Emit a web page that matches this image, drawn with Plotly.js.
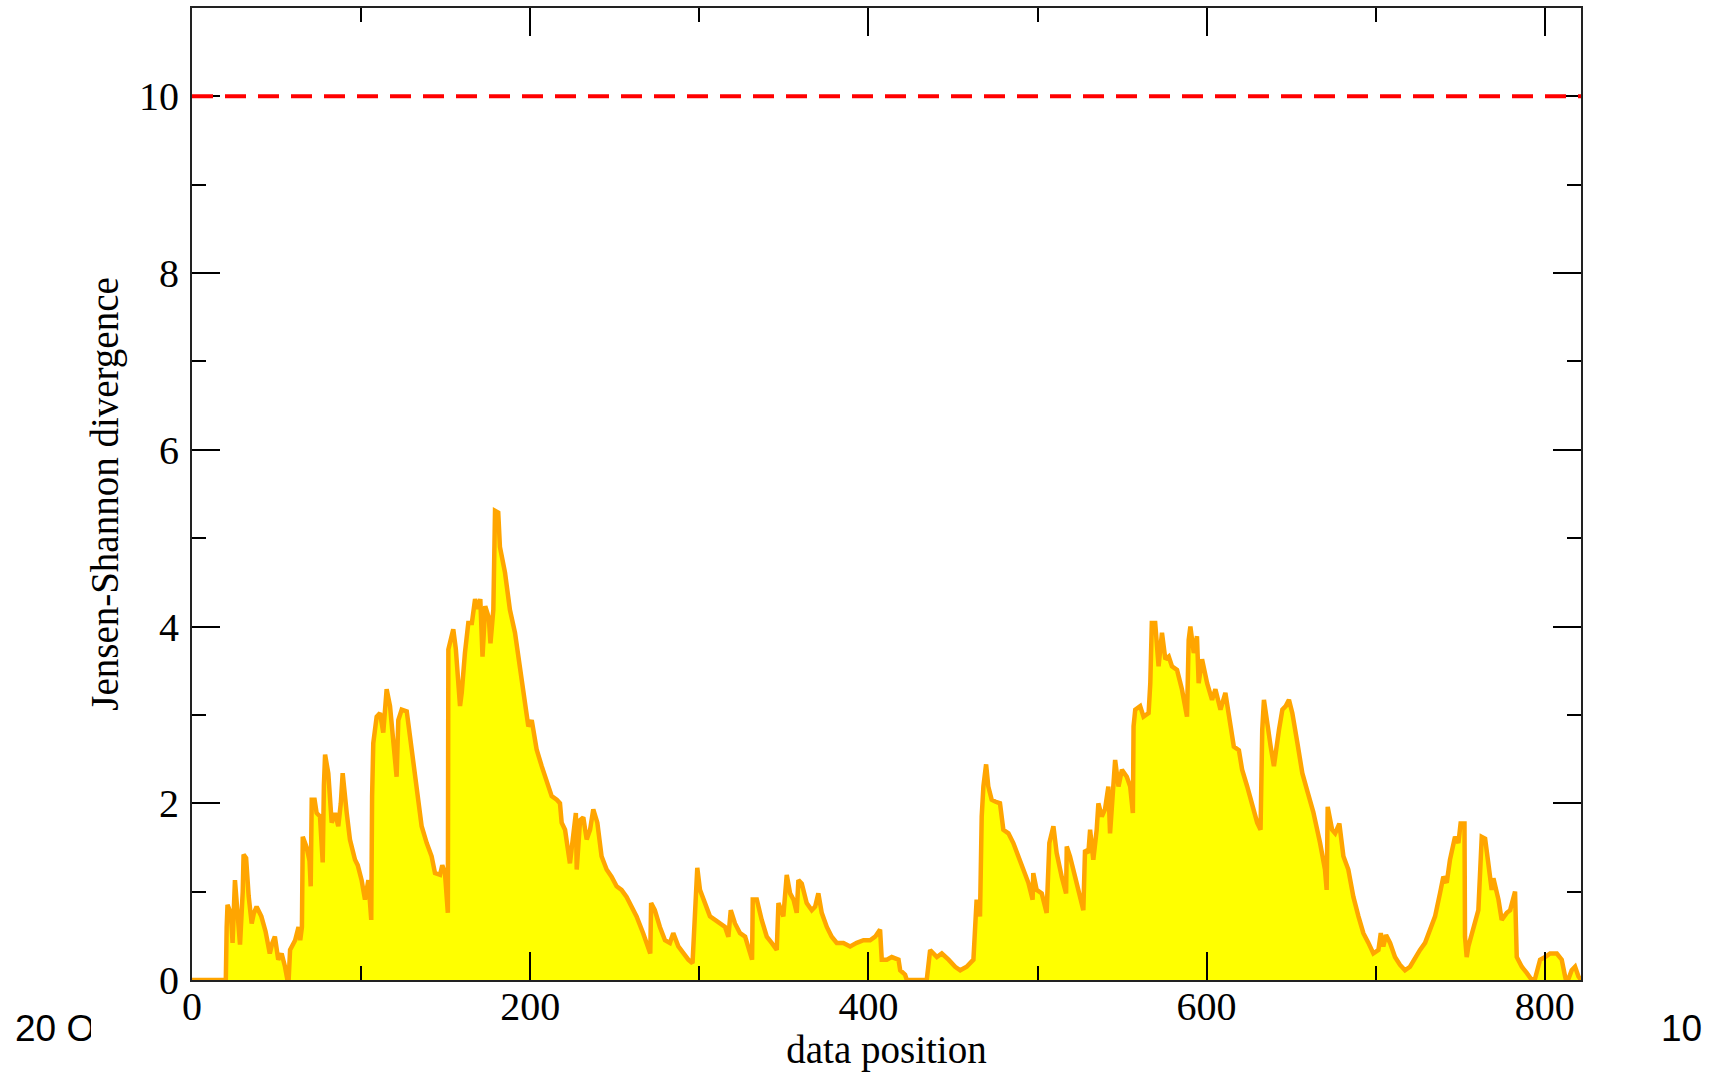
<!DOCTYPE html>
<html>
<head>
<meta charset="utf-8">
<script src="https://cdn.plot.ly/plotly-3.0.1.min.js"></script>
<style>html,body{margin:0;padding:0;background:#fff;}#chart{width:1714px;height:1072px;}</style>
</head>
<body>
<div id="chart"></div>
<script>
// data position (x) and Jensen-Shannon divergence (y)
const positions = [0,20,20.5,21,23,24,25.4,27,28.4,30,30.5,32,33.5,35.3,36.5,38.2,41,43.5,46,47.5,49,51,53,55,57,58,60,61,63,64,65,65.5,67.8,69.5,70.2,70.8,72.5,73.7,75.7,77.3,78,78.7,80.6,82.6,84.6,86.5,88,89.1,91.5,93.4,96.4,98,100.3,102.3,104.3,106,106.5,107.2,109.2,111.2,113.1,115.1,117.1,119,121,122,124,127,129.9,132.9,135.8,138.8,141.7,143.7,146.7,148,149.6,151.3,151.6,154.5,156,158.5,159.5,161.4,163.4,165.5,167.4,169,170.5,171.8,173.4,175.5,176.5,178.2,179.2,181.1,182.1,185.1,188,191,194,196.9,198.9,200.9,203.8,206.8,209.7,212.7,215.7,217.6,218.6,220.6,223.5,225.5,227,227.5,229.5,231.4,233.4,235.4,237.3,239.7,242.2,245.2,248.1,251.1,254,257,260,262.9,266.8,269.8,271,271.5,273.7,276.7,279.7,282.6,284.6,287.6,290.5,293.5,296,297.4,298.8,300.4,303.4,306.3,309.3,312.2,315.2,317.2,318.6,321.1,324.1,327.1,330,331.2,331.6,334,336.9,339.9,342.8,345.8,346.8,349.7,351.7,353.7,355.7,357.6,358.6,360.6,363.5,366.5,368.5,370.4,372.4,375.4,378.3,381.3,385.2,389.2,393.1,397.1,401,404,406.9,407.9,410.9,413.8,417.8,418.8,421.7,422.7,434.5,436.5,440.5,443.4,447.4,451.3,454.3,458.1,462.1,463,464,466,467,468,469.6,470.9,472.9,474.9,477.8,479.8,482.8,485.7,488.7,491.6,494.6,497.1,497.5,499.5,502.5,505.4,507,509.4,511.3,514.3,516.9,517.3,519.2,522.2,525.2,527.1,528.1,530.1,531.1,533,535,536,538,539.9,541.9,542.9,545.9,547.9,549.9,552.8,554.8,556.4,556.8,557.8,560.7,562.7,565.7,566.7,567.6,569.6,571.6,573.6,575.6,577.6,579.5,582.5,585.4,588.4,589.4,590.4,592.4,594.3,595.3,597.3,600.3,603.2,605.2,608.2,611.1,613.1,616.1,619.1,621,624,627,629.9,631.9,632.9,633.9,635.9,637.9,639.8,641.4,642.8,644.8,646.8,648.7,650.7,653.7,656.6,659.4,663.1,667.1,670,671,671.6,674.2,676,678.5,680.9,683.8,686.8,689.8,692.7,695.7,698.6,701.6,703,704.5,706.1,708.5,711.4,714.4,717.3,720.3,723.3,726.2,729.2,732.1,735.1,738,740,742,743.9,746.9,748.9,750.2,752.5,752.8,753.8,754.8,757.8,760.7,762.7,764.7,766.6,768.6,769.6,772.6,774.5,777.5,779.5,782.4,783.4,786.4,789.3,792.3,794.3,796.2,797.2,800.2,803.1,807.1,810,812,813,815.9,817.9,819.9,821.4];
const divergence = [0,0,0.6,0.85,0.75,0.42,1.13,0.7,0.4,1.0,1.42,1.38,0.95,0.64,0.75,0.83,0.72,0.55,0.3,0.42,0.49,0.23,0.3,0.15,-0.06,0.34,0.4,0.45,0.6,0.45,0.6,1.62,1.5,1.35,1.06,2.04,2.04,1.89,1.85,1.33,2.2,2.55,2.34,1.78,1.89,1.74,2.0,2.34,1.89,1.59,1.36,1.3,1.13,0.91,1.13,0.68,2.08,2.68,2.98,3.02,2.8,3.29,3.1,2.72,2.3,2.94,3.06,3.04,2.64,2.19,1.74,1.55,1.4,1.21,1.19,1.3,1.21,0.76,3.74,3.97,3.75,3.1,3.25,3.7,4.04,4.04,4.31,4.2,4.31,3.66,4.23,4.1,3.81,4.19,5.31,5.29,4.9,4.61,4.19,3.93,3.55,3.1,2.87,2.94,2.61,2.42,2.27,2.08,2.04,2.0,1.78,1.7,1.32,1.7,1.89,1.25,1.81,1.84,1.59,1.7,1.93,1.78,1.4,1.25,1.17,1.06,1.02,0.94,0.83,0.72,0.53,0.38,0.3,0.87,0.79,0.6,0.45,0.42,0.53,0.38,0.3,0.23,0.19,0.64,1.27,1.02,0.87,0.72,0.68,0.64,0.6,0.49,0.79,0.64,0.53,0.49,0.3,0.23,0.91,0.91,0.68,0.49,0.42,0.34,0.87,0.72,1.19,0.98,0.91,0.76,1.13,1.09,0.87,0.79,0.83,0.98,0.76,0.6,0.49,0.42,0.42,0.38,0.42,0.45,0.45,0.49,0.57,0.23,0.23,0.26,0.23,0.11,0.06,0,0,0.34,0.26,0.3,0.23,0.15,0.11,0.15,0.23,0.49,0.91,0.72,1.85,2.19,2.44,2.19,2.04,2.02,2.0,1.7,1.66,1.55,1.4,1.25,1.1,0.91,1.21,1.02,0.98,0.76,1.55,1.74,1.44,1.17,0.98,1.51,1.4,1.17,0.91,0.79,1.47,1.44,1.7,1.36,1.7,2.0,1.85,1.93,2.19,1.66,2.49,2.19,2.38,2.3,2.19,1.89,2.87,3.06,3.1,2.98,3.02,3.36,4.04,4.04,3.55,3.93,3.63,3.66,3.55,3.51,3.29,2.98,3.85,4.0,3.7,3.89,3.36,3.63,3.36,3.17,3.29,3.06,3.25,2.98,2.64,2.6,2.38,2.19,2.0,1.78,1.7,2.83,3.17,2.87,2.64,2.42,2.68,2.83,3.06,3.1,3.17,3.02,2.68,2.34,2.15,1.9,1.55,1.25,1.02,1.96,1.7,1.66,1.77,1.4,1.25,0.94,0.72,0.53,0.42,0.3,0.34,0.53,0.38,0.51,0.42,0.26,0.17,0.11,0.15,0.26,0.34,0.42,0.57,0.72,0.98,1.17,1.1,1.36,1.62,1.55,1.77,1.77,0.49,0.26,0.38,0.57,0.79,1.62,1.6,1.32,1.02,1.15,0.91,0.68,0.76,0.79,1.0,0.26,0.15,0.08,0,0.02,0.19,0.23,0.26,0.3,0.3,0.23,0.04,-0.04,0.11,0.15,0.04,0];
const threshold = 10;
const xRange = [0, 821.4];
const yRange = [0, 11];
const xTitle = 'data position';
const yTitle = 'Jensen-Shannon divergence';
const cornerLeftText = '20 O';
const cornerRightText = '10';

const serif = 'Liberation Serif, Times New Roman, serif';
const sans = 'Liberation Sans, Arial, sans-serif';

const trace = {
  type: 'scatter', mode: 'lines',
  x: positions, y: divergence,
  fill: 'tozeroy', fillcolor: '#ffff00',
  line: {color: '#ffa500', width: 4.5},
  hoverinfo: 'skip', showlegend: false
};

const axisCommon = {
  ticks: 'inside', ticklen: 28, tickwidth: 2, tickcolor: '#000',
  showline: true, linecolor: '#222', linewidth: 2, mirror: 'allticks',
  showgrid: false, zeroline: false,
  tickfont: {family: serif, size: 40, color: '#000'}
};

const layout = {
  width: 1714, height: 1072,
  margin: {l: 192, r: 133, t: 8, b: 92},
  paper_bgcolor: '#fff', plot_bgcolor: '#fff',
  showlegend: false,
  xaxis: Object.assign({}, axisCommon, {
    range: xRange, tick0: 0, dtick: 200, ticklabelstandoff: -10,
    minor: {dtick: 100, ticks: 'inside', ticklen: 14, tickwidth: 2, tickcolor: '#000', showgrid: false},
    title: {text: xTitle, font: {family: serif, size: 39, color: '#000'}, standoff: 11}
  }),
  yaxis: Object.assign({}, axisCommon, {
    range: yRange, tick0: 0, dtick: 2, ticklabelstandoff: 3,
    minor: {dtick: 1, ticks: 'inside', ticklen: 14, tickwidth: 2, tickcolor: '#000', showgrid: false},
    title: {text: yTitle, font: {family: serif, size: 39, color: '#000'}, standoff: 8}
  }),
  shapes: [{
    type: 'line', xref: 'paper', x0: 0, x1: 1, yref: 'y', y0: threshold, y1: threshold,
    line: {color: '#ff0000', width: 4, dash: '21px,12px'}
  }],
  annotations: [
    {text: cornerLeftText, xref: 'paper', yref: 'paper', x: -0.1289, y: -0.05, xanchor: 'left', yanchor: 'middle',
     showarrow: false, width: 76, align: 'left', font: {family: sans, size: 37, color: '#000'}},
    {text: cornerRightText, xref: 'paper', yref: 'paper', x: 1.0724, y: -0.05, xanchor: 'center', yanchor: 'middle',
     showarrow: false, font: {family: sans, size: 37, color: '#000'}}
  ]
};

Plotly.newPlot('chart', [trace], layout, {staticPlot: true, displayModeBar: false});
</script>
</body>
</html>
